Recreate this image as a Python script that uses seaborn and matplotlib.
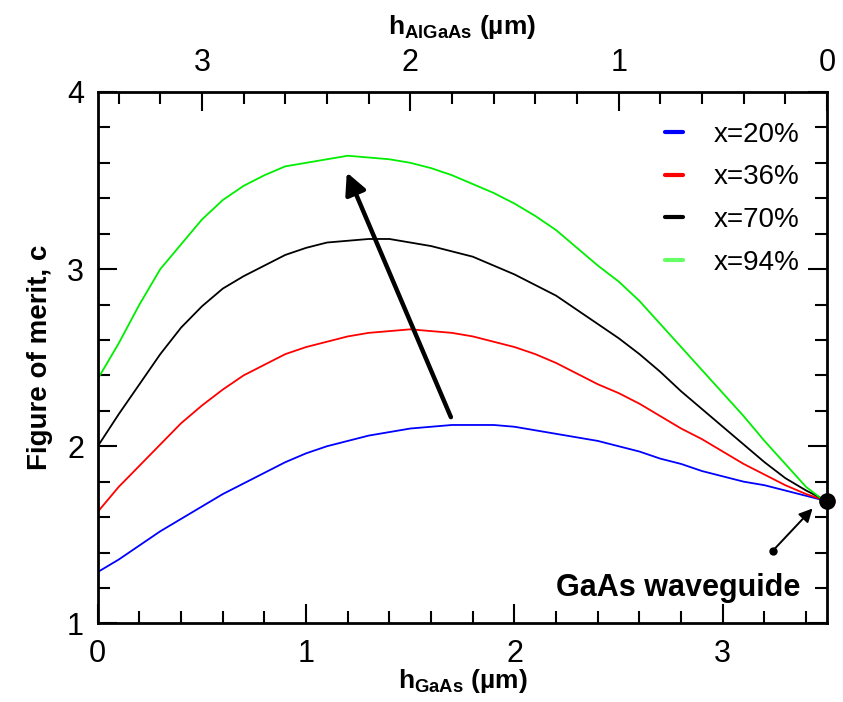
import seaborn as sns
import pandas as pd
import matplotlib.pyplot as plt
from matplotlib.ticker import MultipleLocator, FixedLocator

# thickness of the GaAs layer (um)
h_gaas = [0.0, 0.1, 0.2, 0.3, 0.4, 0.5, 0.6, 0.7, 0.8, 0.9, 1.0, 1.1,
          1.2, 1.3, 1.4, 1.5, 1.6, 1.7, 1.8, 1.9, 2.0, 2.1, 2.2, 2.3,
          2.4, 2.5, 2.6, 2.7, 2.8, 2.9, 3.0, 3.1, 3.2, 3.3, 3.4, 3.5]

# figure of merit for each Al fraction
chi_20 = [1.29, 1.36, 1.44, 1.52, 1.59, 1.66, 1.73, 1.79, 1.85, 1.91, 1.96, 2.00,
          2.03, 2.06, 2.08, 2.10, 2.11, 2.12, 2.12, 2.12, 2.11, 2.09, 2.07, 2.05,
          2.03, 2.00, 1.97, 1.93, 1.90, 1.86, 1.83, 1.80, 1.78, 1.75, 1.72, 1.69]
chi_36 = [1.63, 1.77, 1.89, 2.01, 2.13, 2.23, 2.32, 2.40, 2.46, 2.52, 2.56, 2.59,
          2.62, 2.64, 2.65, 2.66, 2.65, 2.64, 2.62, 2.59, 2.56, 2.52, 2.47, 2.41,
          2.35, 2.30, 2.24, 2.17, 2.10, 2.04, 1.97, 1.90, 1.84, 1.78, 1.73, 1.69]
chi_70 = [2.00, 2.18, 2.35, 2.52, 2.67, 2.79, 2.89, 2.96, 3.02, 3.08, 3.12, 3.15,
          3.16, 3.17, 3.17, 3.15, 3.13, 3.10, 3.07, 3.02, 2.97, 2.91, 2.85, 2.77,
          2.69, 2.61, 2.52, 2.42, 2.31, 2.21, 2.11, 2.01, 1.91, 1.82, 1.75, 1.69]
chi_94 = [2.38, 2.58, 2.80, 3.00, 3.14, 3.28, 3.39, 3.47, 3.53, 3.58, 3.60, 3.62,
          3.64, 3.63, 3.62, 3.60, 3.57, 3.53, 3.48, 3.43, 3.37, 3.30, 3.22, 3.12,
          3.02, 2.93, 2.82, 2.69, 2.56, 2.43, 2.30, 2.17, 2.03, 1.90, 1.77, 1.68]

labels = ["x=20%", "x=36%", "x=70%", "x=94%"]
colors = ["#0000ff", "#ff0000", "#000000", "#00ee00"]
top_ticks = [0, 1, 2, 3]

total = 3.5

# long form table for seaborn
df = pd.concat([
    pd.DataFrame({"h": h_gaas, "chi": vals, "series": lab})
    for vals, lab in zip([chi_20, chi_36, chi_70, chi_94], labels)
])

sns.set_style("white")
plt.rcParams["font.family"] = ["Liberation Sans", "DejaVu Sans"]
plt.rcParams["mathtext.fontset"] = "custom"
plt.rcParams["mathtext.rm"] = "Liberation Sans"
plt.rcParams["mathtext.bf"] = "Liberation Sans:bold"
plt.rcParams["text.color"] = "k"
plt.rcParams["axes.labelcolor"] = "k"
plt.rcParams["xtick.color"] = "k"
plt.rcParams["ytick.color"] = "k"

fig = plt.figure(figsize=(8.43, 7.02), dpi=100)
ax = fig.add_axes([0.116, 0.112, 0.865, 0.757])

sns.lineplot(data=df, x="h", y="chi", hue="series", palette=colors,
             linewidth=1.3, ax=ax, legend=False)

# convergence point
ax.plot([total], [1.69], "o", color="k", markersize=11, clip_on=False, zorder=5)

# trend arrow
ax.annotate("", xy=(1.19, 3.56), xytext=(1.70, 2.15),
            arrowprops=dict(arrowstyle="-|>", lw=3.2, color="k", mutation_scale=32))

# waveguide arrow
ax.plot([3.24], [1.41], "o", color="k", markersize=5)
ax.annotate("", xy=(3.44, 1.66), xytext=(3.24, 1.41),
            arrowprops=dict(arrowstyle="-|>", lw=1.4, color="k", mutation_scale=20))
ax.text(3.37, 1.2, "GaAs waveguide", fontsize=22, fontweight="bold",
        ha="right", va="center")

# legend with short handles
handles = [plt.Line2D([], [], color=c, lw=3) for c in colors]
handles[3].set_color("#66ff66")
ax.legend(handles, labels, loc="upper right", bbox_to_anchor=(0.978, 0.965),
          borderaxespad=0, frameon=False, fontsize=20, handlelength=0.65,
          handletextpad=1.1, labelspacing=0.6)

ax.set_xlim(0, total)
ax.set_ylim(1, 4)
ax.xaxis.set_major_locator(MultipleLocator(1))
ax.xaxis.set_minor_locator(MultipleLocator(0.2))
ax.yaxis.set_major_locator(MultipleLocator(1))
ax.yaxis.set_minor_locator(MultipleLocator(0.2))
ax.tick_params(which="both", direction="in", left=True, right=True,
               bottom=True, top=False, width=1.5, labelsize=22)
ax.tick_params(which="major", length=14)
ax.tick_params(which="minor", length=8.5)
ax.tick_params(axis="x", pad=11)
ax.tick_params(axis="y", pad=10)
for sp in ax.spines.values():
    sp.set_linewidth(2)
    sp.set_color("k")

ax.set_xlabel(r"$\mathbf{h_{GaAs}}$ (µm)", fontsize=19, fontweight="bold",
              labelpad=-1)
ax.set_ylabel("Figure of merit, c", fontsize=20, fontweight="bold", labelpad=10)

# top axis: AlGaAs thickness
top = ax.secondary_xaxis("top", functions=(lambda x: total - x, lambda x: total - x))
top.xaxis.set_major_locator(FixedLocator(top_ticks))
top.xaxis.set_minor_locator(MultipleLocator(0.2))
top.tick_params(which="both", direction="in", width=1.5, labelsize=22, pad=10)
top.tick_params(which="major", length=14)
top.tick_params(which="minor", length=8.5)
top.set_xlabel(r"$\mathbf{h_{AlGaAs}}$ (µm)", fontsize=19, fontweight="bold",
               labelpad=10)

fig.savefig("out.png", dpi=100)
